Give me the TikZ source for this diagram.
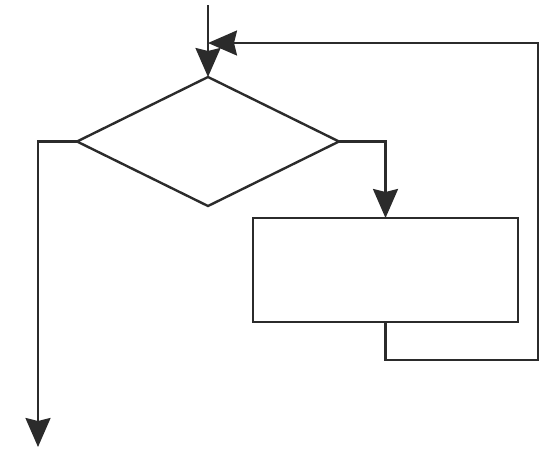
\documentclass[tikz,border=0pt]{standalone}
\usepackage{tikz}
\usepackage{xcolor}
\usetikzlibrary{shapes.geometric,arrows.meta}

\begin{document}
\begin{tikzpicture}[x=1pt,y=-1pt,
  flowline/.style={line width=2.4pt,draw=ink},
  flowarrow/.style={flowline,-{Stealth[length=29pt,width=25pt,inset=3pt]}},
  decision/.style={diamond,draw=ink,line width=2.4pt,inner sep=0,outer sep=0,minimum width=262pt,minimum height=129pt,aspect=2},
  process/.style={rectangle,draw=ink,line width=2.4pt,inner sep=0,outer sep=0,minimum width=265pt,minimum height=104pt}]
\definecolor{ink}{HTML}{2B2B2B}
\useasboundingbox (0,0) rectangle (540,448);
\node [decision] (test) at (208,141.5) {};
\node [process] (body) at (385.5,270) {};
\coordinate (start) at (208,5);
\coordinate (join) at (208,43);
\coordinate (loopend) at (538,360);
\coordinate (exit) at (38,447);
\draw [flowarrow] (start) -- (test.north);
\draw [flowarrow] (test.east) -| (body.north);
\draw [flowarrow] (body.south) |- (loopend) |- (join);
\draw [flowarrow] (test.west) -| (exit);
\end{tikzpicture}
\end{document}
